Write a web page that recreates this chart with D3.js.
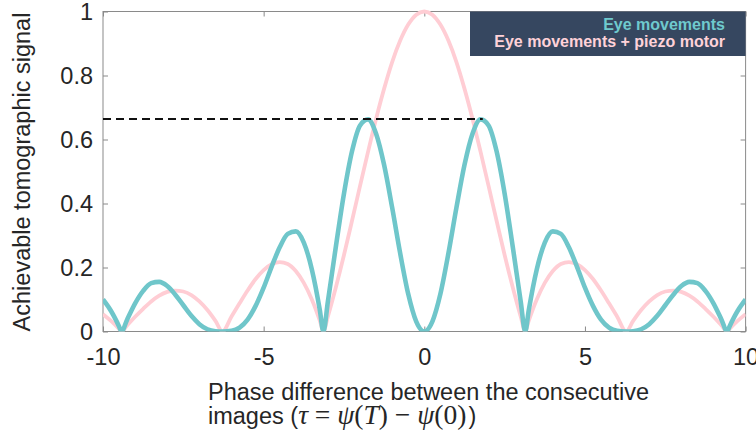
<!DOCTYPE html>
<html>
<head>
<meta charset="utf-8">
<script src="https://cdn.jsdelivr.net/npm/d3@7"></script>
<style>
  html, body { margin: 0; padding: 0; background: #fff; }
  svg { display: block; }
</style>
</head>
<body>
<div id="chart"></div>
<script>
// Phase difference tau between consecutive images
const tau = [
  -10, -9.75, -9.5, -9.425, -9.25, -9, -8.75, -8.5, -8.25, -8, -7.75, -7.5, -7.25, -7, -6.75, -6.5, -6.283,
  -6, -5.75, -5.5, -5.25, -5, -4.75, -4.5, -4.25, -4, -3.75, -3.5, -3.25, -3.142, -3, -2.75, -2.5, -2.25,
  -2, -1.75, -1.5, -1.25, -1, -0.75, -0.5, -0.25, 0,
  0.25, 0.5, 0.75, 1, 1.25, 1.5, 1.75, 2, 2.25, 2.5, 2.75, 3, 3.142, 3.25, 3.5, 3.75, 4, 4.25, 4.5,
  4.75, 5, 5.25, 5.5, 5.75, 6, 6.283, 6.5, 6.75, 7, 7.25, 7.5, 7.75, 8, 8.25, 8.5, 8.75, 9, 9.25, 9.425,
  9.5, 9.75, 10
];

// Achievable tomographic signal: eye movements + piezo motor
const signalPiezo = [
  0.054, 0.033, 0.008, 0, 0.019, 0.046, 0.071, 0.094, 0.112, 0.124, 0.128, 0.125, 0.114, 0.094, 0.067, 0.033, 0,
  0.047, 0.088, 0.128, 0.164, 0.192, 0.210, 0.217, 0.211, 0.189, 0.152, 0.100, 0.033, 0, 0.047, 0.139, 0.239, 0.346,
  0.455, 0.562, 0.665, 0.759, 0.842, 0.909, 0.959, 0.990, 1,
  0.990, 0.959, 0.909, 0.842, 0.759, 0.665, 0.562, 0.455, 0.346, 0.239, 0.139, 0.047, 0, 0.033, 0.100, 0.152, 0.189, 0.211, 0.217,
  0.210, 0.192, 0.164, 0.128, 0.088, 0.047, 0, 0.033, 0.067, 0.094, 0.114, 0.125, 0.128, 0.124, 0.112, 0.094, 0.071, 0.046, 0.019, 0,
  0.008, 0.033, 0.054
];

// Achievable tomographic signal: eye movements only
const signalEye = [
  0.100, 0.064, 0.016, 0, 0.037, 0.088, 0.127, 0.151, 0.155, 0.142, 0.115, 0.082, 0.049, 0.023, 0.007, 0.001, 0,
  0.002, 0.012, 0.037, 0.080, 0.137, 0.203, 0.263, 0.305, 0.313, 0.278, 0.194, 0.066, 0, 0.094, 0.267, 0.431, 0.563,
  0.644, 0.663, 0.618, 0.520, 0.387, 0.244, 0.117, 0.031, 0,
  0.031, 0.117, 0.244, 0.387, 0.520, 0.618, 0.663, 0.644, 0.563, 0.431, 0.267, 0.094, 0, 0.066, 0.194, 0.278, 0.313, 0.305, 0.263,
  0.203, 0.137, 0.080, 0.037, 0.012, 0.002, 0, 0.001, 0.007, 0.023, 0.049, 0.082, 0.115, 0.142, 0.155, 0.151, 0.127, 0.088, 0.037, 0,
  0.016, 0.064, 0.100
];

// Reference level of the first eye-movement peak
const peakLevel = 0.664;
const peakSpan = [-10, 1.82];

const xTicks = [-10, -5, 0, 5, 10];
const xTickLabels = ["-10", "-5", "0", "5", "10"];
const yTicks = [0, 0.2, 0.4, 0.6, 0.8, 1];
const yTickLabels = ["0", "0.2", "0.4", "0.6", "0.8", "1"];

const seriesNames = ["Eye movements", "Eye movements + piezo motor"];
const seriesColors = ["#6fc6ca", "#ffcdd4"];

const W = 756, H = 437;
const plot = { left: 103, right: 745.6, top: 11.5, bottom: 331.5 };

const svg = d3.select("#chart").append("svg")
  .attr("width", W).attr("height", H)
  .style("font-family", "'Liberation Sans', Arial, sans-serif");

const x = d3.scaleLinear().domain([-10, 10]).range([plot.left, plot.right]);
const y = d3.scaleLinear().domain([0, 1]).range([plot.bottom, plot.top]);

svg.append("clipPath").attr("id", "plot-clip")
  .append("rect")
  .attr("x", plot.left).attr("y", plot.top - 3)
  .attr("width", plot.right - plot.left).attr("height", plot.bottom - plot.top + 3);

const axisColor = "#8a8a8a";
const labelColor = "#262626";

function styleAxis(g) {
  g.select(".domain").remove();
  g.selectAll(".tick line").attr("stroke", axisColor).attr("stroke-width", 1);
  g.selectAll(".tick text").attr("fill", labelColor).style("font-size", "23.5px");
}

// bottom / left axes with labels
svg.append("g")
  .attr("transform", `translate(0,${plot.bottom})`)
  .call(d3.axisBottom(x).tickValues(xTicks).tickFormat((d, i) => xTickLabels[i])
    .tickSizeInner(-5).tickSizeOuter(0).tickPadding(16.5))
  .call(styleAxis);

svg.append("g")
  .attr("transform", `translate(${plot.left},0)`)
  .call(d3.axisLeft(y).tickValues(yTicks).tickFormat((d, i) => yTickLabels[i])
    .tickSizeInner(-5).tickSizeOuter(0).tickPadding(10))
  .call(styleAxis);

// mirrored ticks on top / right
svg.append("g")
  .attr("transform", `translate(0,${plot.top})`)
  .call(d3.axisTop(x).tickValues(xTicks).tickFormat("").tickSizeInner(-5).tickSizeOuter(0))
  .call(styleAxis);

svg.append("g")
  .attr("transform", `translate(${plot.right},0)`)
  .call(d3.axisRight(y).tickValues(yTicks).tickFormat("").tickSizeInner(-5).tickSizeOuter(0))
  .call(styleAxis);

// axes box
svg.append("rect")
  .attr("x", plot.left).attr("y", plot.top)
  .attr("width", plot.right - plot.left).attr("height", plot.bottom - plot.top)
  .attr("fill", "none").attr("stroke", axisColor).attr("stroke-width", 1);

const line = d3.line()
  .x((d, i) => x(tau[i]))
  .y(d => y(d))
  .curve(d3.curveMonotoneX);

const curves = svg.append("g").attr("clip-path", "url(#plot-clip)");

curves.append("path")
  .attr("d", line(signalPiezo))
  .attr("fill", "none")
  .attr("stroke", seriesColors[1])
  .attr("stroke-width", 3.8)
  .attr("stroke-linejoin", "round");

curves.append("path")
  .attr("d", line(signalEye))
  .attr("fill", "none")
  .attr("stroke", seriesColors[0])
  .attr("stroke-width", 4.6)
  .attr("stroke-linejoin", "round");

// dashed reference line at the first eye-movement peak
svg.append("line")
  .attr("x1", x(peakSpan[0])).attr("x2", x(peakSpan[1]))
  .attr("y1", y(peakLevel)).attr("y2", y(peakLevel))
  .attr("stroke", "#111").attr("stroke-width", 1.8)
  .attr("stroke-dasharray", "8,5");

// legend
const legend = svg.append("g");
legend.append("rect")
  .attr("x", 470).attr("y", plot.top)
  .attr("width", plot.right - 470).attr("height", 44.5)
  .attr("fill", "#364760");
legend.selectAll("text")
  .data(seriesNames)
  .join("text")
  .attr("x", 725)
  .attr("y", (d, i) => 29.5 + i * 17.3)
  .attr("text-anchor", "end")
  .attr("fill", (d, i) => i === 0 ? "#6fcace" : "#ffd2d9")
  .style("font-size", "16px")
  .style("font-weight", "bold")
  .text(d => d);

// y axis title
svg.append("text")
  .attr("transform", `translate(30,${172}) rotate(-90)`)
  .attr("text-anchor", "middle")
  .attr("fill", labelColor)
  .style("font-size", "23.5px")
  .text("Achievable tomographic signal");

// x axis title: first line
svg.append("text")
  .attr("x", 208).attr("y", 399.5)
  .attr("fill", labelColor)
  .style("font-size", "23.5px")
  .text("Phase difference between the consecutive");

// x axis title: second line with the phase expression
const l2 = svg.append("text")
  .attr("x", 208).attr("y", 424)
  .attr("fill", labelColor)
  .style("font-size", "23.5px");
l2.append("tspan").text("images (");
const mathFont = "'Liberation Serif', 'DejaVu Serif', serif";
const mathParts = [
  { t: "τ", it: true }, { t: " = ", it: false }, { t: "ψ", it: true }, { t: "(", it: false },
  { t: "T", it: true }, { t: ") − ", it: false }, { t: "ψ", it: true }, { t: "(0)", it: false }
];
mathParts.forEach(p => {
  l2.append("tspan")
    .style("font-family", mathFont)
    .style("font-style", p.it ? "italic" : "normal")
    .style("font-size", "27.5px")
    .text(p.t);
});
l2.append("tspan").attr("dx", 2).text(")");
</script>
</body>
</html>
